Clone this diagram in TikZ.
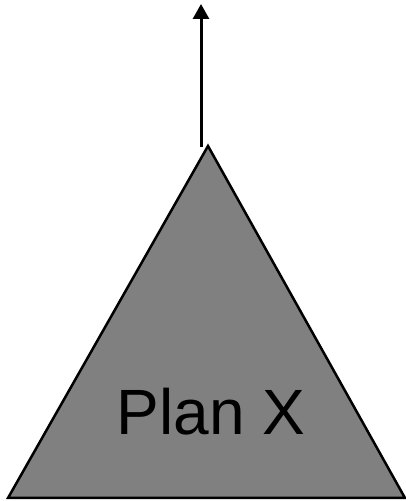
\documentclass[tikz,border=0pt]{standalone}
\usepackage{fontspec}
\setmainfont{Liberation Sans}
\usetikzlibrary{arrows.meta}
\tikzset{
  plan/.style ={draw=black, line width=2.5pt, fill=black!50, line join=miter},
  arrow/.style={-{Triangle[length=15pt, width=16pt]}, line width=3pt, black},
  lbl/.style  ={font=\fontsize{64}{64}\selectfont, text=black, inner sep=0pt}
}
\begin{document}
\begin{tikzpicture}[x=1pt, y=1pt]
\useasboundingbox (0,0) rectangle (406,501);
%  Triangle 
\coordinate (apex)  at (208,355);
\coordinate (left)  at (8,3);
\coordinate (right) at (405,3);
\draw[plan] (left) -- (apex) -- (right) -- cycle;
\node[lbl, anchor=base] (planx) at (211,66) {Plan X};

%  Arrow 
\coordinate (start) at (201,354);
\coordinate (tip)   at (201,497);
\draw[arrow] (start) -- (tip);
\end{tikzpicture}
\end{document}
